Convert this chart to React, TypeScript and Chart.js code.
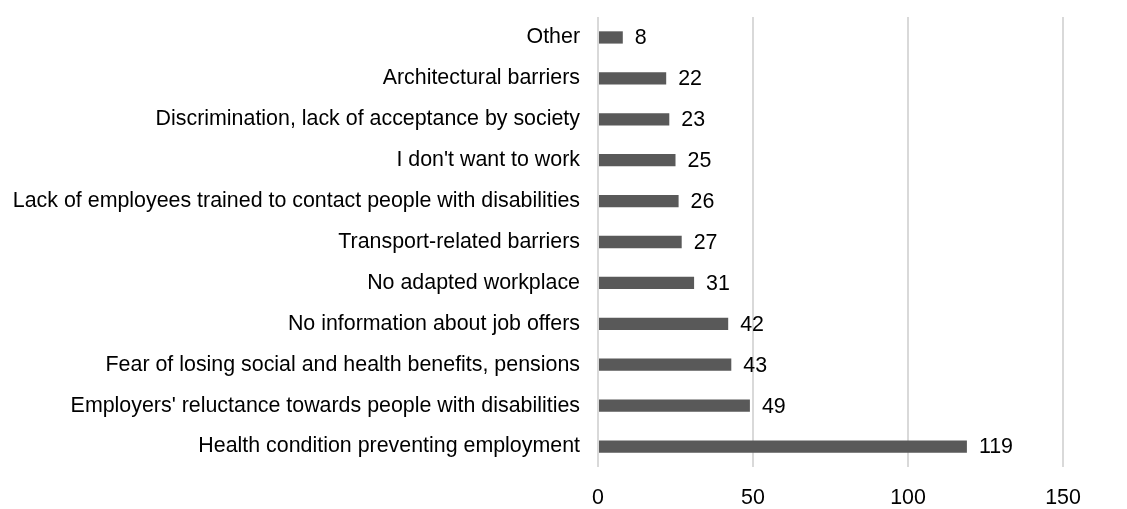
import React, { useEffect, useRef } from "react";
import { Chart, registerables } from "chart.js";

Chart.register(...registerables);

const categories = [
  "Other",
  "Architectural barriers",
  "Discrimination, lack of acceptance by society",
  "I don't want to work",
  "Lack of employees trained to contact people with disabilities",
  "Transport-related barriers",
  "No adapted workplace",
  "No information about job offers",
  "Fear of losing social and health benefits, pensions",
  "Employers' reluctance towards people with disabilities",
  "Health condition preventing employment",
];

const values = [8, 22, 23, 25, 26, 27, 31, 42, 43, 49, 119];

const xTicks = [0, 50, 100, 150];

const FONT = "'Liberation Sans', Arial, sans-serif";
const FONT_SIZE = 21.4;

const valueLabels = {
  id: "valueLabels",
  afterDatasetsDraw(chart: any) {
    const ctx = chart.ctx;
    const meta = chart.getDatasetMeta(0);
    ctx.save();
    ctx.font = `${FONT_SIZE}px ${FONT}`;
    ctx.fillStyle = "#000000";
    ctx.textAlign = "left";
    ctx.textBaseline = "middle";
    meta.data.forEach((bar: any, i: number) => {
      ctx.fillText(String(values[i]), bar.x + 12, bar.y + 1);
    });
    ctx.restore();
  },
};

export default function App() {
  const canvasRef = useRef<HTMLCanvasElement | null>(null);

  useEffect(() => {
    if (!canvasRef.current) return;
    const chart = new Chart(canvasRef.current, {
      type: "bar",
      data: {
        labels: categories,
        datasets: [
          {
            data: values,
            backgroundColor: "#595959",
            borderWidth: 0,
            barPercentage: 0.6,
            categoryPercentage: 0.5,
          },
        ],
      },
      options: {
        indexAxis: "y",
        animation: false,
        responsive: true,
        maintainAspectRatio: false,
        layout: { padding: { left: 0, right: 64, top: 17, bottom: 0 } },
        plugins: {
          legend: { display: false },
          tooltip: { enabled: false },
        },
        scales: {
          x: {
            min: 0,
            max: 150,
            afterBuildTicks: (scale: any) => {
              scale.ticks = xTicks.map((v) => ({ value: v }));
            },
            afterFit: (scale: any) => {
              scale.height = 42;
            },
            grid: {
              color: "#d9d9d9",
              lineWidth: 2,
              drawTicks: false,
            },
            border: { display: false },
            ticks: {
              padding: 18,
              color: "#000000",
              font: { family: FONT, size: FONT_SIZE },
            },
          },
          y: {
            afterFit: (scale: any) => {
              scale.width = 598;
              scale.paddingTop = 0;
              scale.paddingBottom = 0;
            },
            grid: { display: false, drawTicks: false },
            border: { display: false },
            ticks: {
              padding: 18,
              color: "#000000",
              font: { family: FONT, size: FONT_SIZE },
            },
          },
        },
      },
      plugins: [valueLabels],
    });
    return () => chart.destroy();
  }, []);

  return (
    <div
      style={{
        position: "fixed",
        left: 0,
        top: 0,
        width: 1127,
        height: 509,
        background: "#ffffff",
      }}
    >
      <canvas ref={canvasRef} />
    </div>
  );
}
